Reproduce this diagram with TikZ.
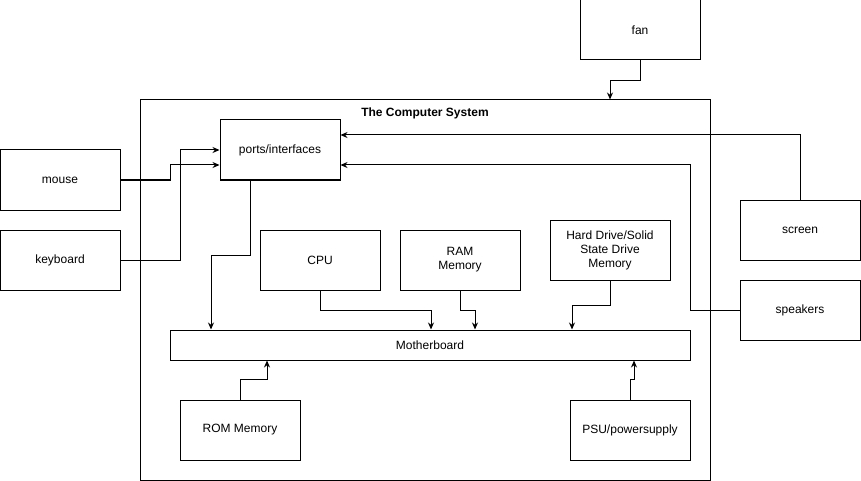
\documentclass[tikz,border=0pt]{standalone}
\usepackage{fontspec}
\setmainfont{Liberation Sans}
\usetikzlibrary{arrows.meta}
\begin{document}
\begin{tikzpicture}[
	x=1pt, y=-1pt,
	box/.style={
		rectangle,
		draw=black,
		line width=1pt,
		fill=white,
		minimum width=120pt,
		minimum height=60pt,
		align=center,
		font=\fontsize{12}{14}\selectfont,
	},
	link/.style={
		->,
		line width=1pt,
	},
	>={Stealth[length=7pt,width=6pt]}
]
\useasboundingbox (0,0) rectangle (861,481);

\node[box, minimum width=570pt, minimum height=380pt] (sys) at (425,290) {};
\node[font=\fontsize{12}{14}\selectfont\bfseries] (title) at (425,113) {The Computer System};

\node[box] (fan) at (640,30) {fan};
\node[box] (ports) at (280,150) {ports/interfaces};
\node[box] (mouse) at (60,180) {mouse};
\node[box] (keyboard) at (60,260) {keyboard};
\node[box] (screen) at (800,230) {screen};
\node[box] (speakers) at (800,310) {speakers};

\node[box] (cpu) at (320,260) {CPU};
\node[box] (ram) at (460,260) {RAM\\ Memory};
\node[box] (hdd) at (610,250) {Hard Drive/Solid\\ State Drive\\ Memory};

\node[box, minimum width=520pt, minimum height=30pt] (mb) at (430,345) {Motherboard};

\node[box] (rom) at (240,430) {ROM Memory};
\node[box] (psu) at (630,430) {PSU/powersupply};

\draw[link] (fan.south) -- ++(0,20) -| (sys.north -| 610,0);

\draw[link] (mouse.east) -- (170,180) |- ([yshift=-15pt]ports.west);
\draw[link] (keyboard.east) -- (180,260) |- (ports.west);
\draw[link] (screen.north) |- ([yshift=15pt]ports.east);
\draw[link] (speakers.west) -- (690,310) |- ([yshift=-15pt]ports.east);

\draw[link] ([xshift=-30pt]ports.south) -- ++(0,75) -| (mb.north -| 211,0);
\draw[link] (cpu.south) -- ++(0,20) -| (mb.north -| 431,0);
\draw[link] (ram.south) -- ++(0,20) -| (mb.north -| 475,0);
\draw[link] (hdd.south) -- ++(0,25) -| (mb.north -| 572,0);

\draw[link] (rom.north) -- ++(0,-20) -| (mb.south -| 267,0);
\draw[link] (psu.north) -- ++(0,-20) -| (mb.south -| 634,0);

\end{tikzpicture}
\end{document}
